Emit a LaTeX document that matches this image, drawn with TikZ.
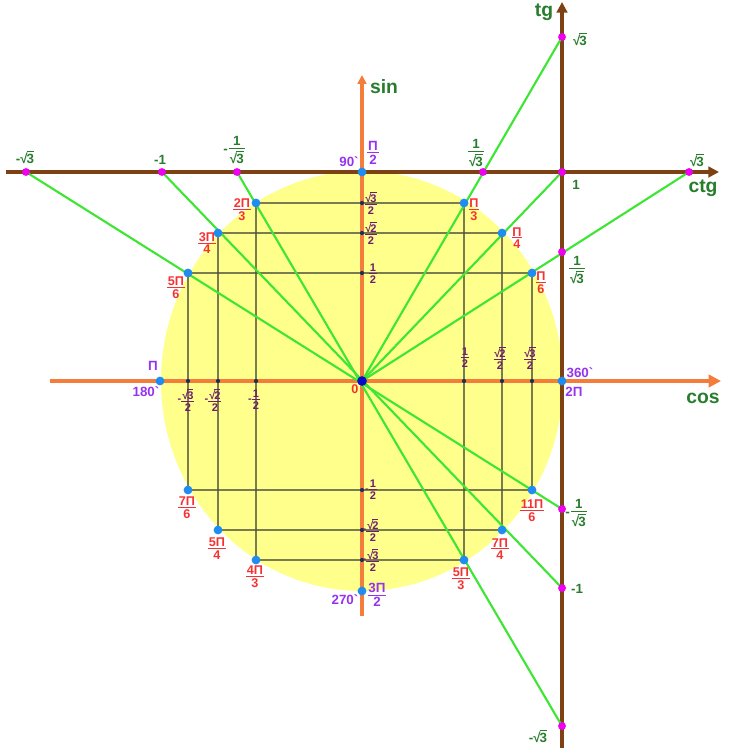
\documentclass[tikz,border=0pt]{standalone}
\usepackage{amsmath}
\usepackage{fontspec}
\setmainfont{Liberation Sans}
\usetikzlibrary{arrows.meta}
\definecolor{myorange}{RGB}{245,125,60}
\definecolor{mybrown}{RGB}{125,65,20}
\definecolor{mygreen}{RGB}{60,230,50}
\definecolor{mydkgreen}{RGB}{40,125,45}
\definecolor{myyellow}{RGB}{255,255,140}
\definecolor{myblue}{RGB}{30,140,240}
\definecolor{mydkblue}{RGB}{10,10,200}
\definecolor{mynavy}{RGB}{20,50,90}
\definecolor{mymagenta}{RGB}{240,0,240}
\definecolor{myred}{RGB}{245,50,50}
\definecolor{myviolet}{RGB}{150,50,240}
\definecolor{myplum}{RGB}{110,30,110}
\definecolor{mygrid}{RGB}{80,80,60}
% tight fraction and root
\newcommand{\fr}[2]{$\vcenter{\offinterlineskip\halign{\hfil\kern0.5pt\hbox{##}\kern0.5pt\hfil\cr #1\cr\noalign{\kern0.8pt\hrule height0.55pt\kern0.9pt}#2\cr}}$}
\newcommand{\rfr}[2]{$\vcenter{\offinterlineskip\halign{\hfil\kern0.5pt\hbox{##}\kern0.5pt\hfil\cr #1\cr\noalign{\kern1pt\hrule height0.55pt\kern1.2pt}#2\cr}}$}
\newcommand{\rt}[1]{\mbox{√\kern-0.6pt$\overline{\text{#1}}$}}
\newcommand{\gr}{\textasciigrave}
\newcommand{\mn}{-\kern0.7pt}
\tikzset{
  cpt/.style={circle, fill=myblue, inner sep=0pt, minimum size=5pt},
  tpt/.style={circle, fill=mymagenta, inner sep=0pt, minimum size=4.5pt},
  apt/.style={circle, fill=mynavy, inner sep=0pt, minimum size=2.4pt},
  oaxis/.style={-{Triangle[length=7pt, width=7pt]}, line width=2pt, color=myorange},
  baxis/.style={-{Triangle[length=6pt, width=6pt]}, line width=2pt, color=mybrown},
  gline/.style={line width=1.2pt, color=mygreen},
  projline/.style={line width=0.8pt, color=mygrid, opacity=0.75},
  tlbl/.style={text=mydkgreen, font=\bfseries\fontsize{7.6}{8}\selectfont, inner sep=0pt},
  axlbl/.style={text=mydkgreen, font=\bfseries\fontsize{11}{12}\selectfont, inner sep=0pt},
  vlbl/.style={text=myviolet, font=\bfseries\fontsize{7.6}{8}\selectfont, inner sep=0pt},
  rlbl/.style={text=myred, font=\bfseries\fontsize{7.2}{7.5}\selectfont, inner sep=0pt},
  plbl/.style={text=myplum, font=\bfseries\fontsize{6.3}{7}\selectfont, inner sep=0pt}
}

\begin{document}
\begin{tikzpicture}[x=0.02cm, y=-0.02cm]
  \useasboundingbox (0,0) rectangle (728,753);

  % unit disk
  \fill[myyellow] (362,381) ellipse [x radius=201, y radius=210];

  % Points on the circle
  \coordinate (O) at (362,381);
  \coordinate (p0) at (562,381);
  \coordinate (p30) at (532,273);
  \coordinate (p45) at (502,233);
  \coordinate (p60) at (464,203);
  \coordinate (p90) at (362,172);
  \coordinate (p120) at (256,203);
  \coordinate (p135) at (218,233);
  \coordinate (p150) at (188,273);
  \coordinate (p180) at (160,381);
  \coordinate (p210) at (188,490);
  \coordinate (p225) at (218,530);
  \coordinate (p240) at (256,560);
  \coordinate (p270) at (362,591);
  \coordinate (p300) at (464,560);
  \coordinate (p315) at (502,530);
  \coordinate (p330) at (532,490);

  % Points on tg and ctg
  \coordinate (c1) at (26,172);
  \coordinate (c2) at (162,172);
  \coordinate (c3) at (237,172);
  \coordinate (c4) at (483,172);
  \coordinate (c5) at (562,172);
  \coordinate (c6) at (689,172);
  \coordinate (t1) at (562,37);
  \coordinate (t2) at (562,252);
  \coordinate (t3) at (562,509);
  \coordinate (t4) at (562,588);
  \coordinate (t5) at (562,726);

  % Axis ends
  \coordinate (cosL) at (50,381);
  \coordinate (cosR) at (721,381);
  \coordinate (sinB) at (362,616);
  \coordinate (sinT) at (362,75);
  \coordinate (ctgL) at (6,172);
  \coordinate (ctgR) at (719,172);
  \coordinate (tgB) at (562,748);
  \coordinate (tgT) at (562,2);

  % Projections
  \draw[projline] (p120) -- (p60);
  \draw[projline] (p135) -- (p45);
  \draw[projline] (p150) -- (p30);
  \draw[projline] (p210) -- (p330);
  \draw[projline] (p225) -- (p315);
  \draw[projline] (p240) -- (p300);
  \draw[projline] (p120) -- (p240);
  \draw[projline] (p135) -- (p225);
  \draw[projline] (p150) -- (p210);
  \draw[projline] (p60) -- (p300);
  \draw[projline] (p45) -- (p315);
  \draw[projline] (p30) -- (p330);

  % Axes
  \draw[oaxis] (cosL) -- (cosR);
  \draw[oaxis, -{Triangle[length=5pt, width=5pt]}] (sinB) -- (sinT);
  \draw[baxis] (ctgL) -- (ctgR);
  \draw[baxis] (tgB) -- (tgT);

  % Green lines
  \draw[gline] (c1) -- (t3);
  \draw[gline] (c2) -- (t4);
  \draw[gline] (c3) -- (t5);
  \draw[gline] (O) -- (t1);
  \draw[gline] (O) -- (c5);
  \draw[gline] (O) -- (c6);

  % Dots on the axes
  \node[apt] (a1) at (362,203) {};
  \node[apt] (a2) at (362,233) {};
  \node[apt] (a3) at (362,273) {};
  \node[apt] (a4) at (362,490) {};
  \node[apt] (a5) at (362,530) {};
  \node[apt] (a6) at (362,560) {};
  \node[apt] (a7) at (188,381) {};
  \node[apt] (a8) at (218,381) {};
  \node[apt] (a9) at (256,381) {};
  \node[apt] (a10) at (464,381) {};
  \node[apt] (a11) at (502,381) {};
  \node[apt] (a12) at (532,381) {};

  % Dots on the circle
  \node[cpt] (d0) at (p0) {};
  \node[cpt] (d30) at (p30) {};
  \node[cpt] (d45) at (p45) {};
  \node[cpt] (d60) at (p60) {};
  \node[cpt] (d90) at (p90) {};
  \node[cpt] (d120) at (p120) {};
  \node[cpt] (d135) at (p135) {};
  \node[cpt] (d150) at (p150) {};
  \node[cpt] (d180) at (p180) {};
  \node[cpt] (d210) at (p210) {};
  \node[cpt] (d225) at (p225) {};
  \node[cpt] (d240) at (p240) {};
  \node[cpt] (d270) at (p270) {};
  \node[cpt] (d300) at (p300) {};
  \node[cpt] (d315) at (p315) {};
  \node[cpt] (d330) at (p330) {};
  \node[circle, fill=mydkblue, inner sep=0pt, minimum size=5.5pt] (dO) at (O) {};

  % Dots on tg and ctg
  \node[tpt] (dc1) at (c1) {};
  \node[tpt] (dc2) at (c2) {};
  \node[tpt] (dc3) at (c3) {};
  \node[tpt] (dc4) at (c4) {};
  \node[tpt] (dc5) at (c5) {};
  \node[tpt] (dc6) at (c6) {};
  \node[tpt] (dt1) at (t1) {};
  \node[tpt] (dt2) at (t2) {};
  \node[tpt] (dt3) at (t3) {};
  \node[tpt] (dt4) at (t4) {};
  \node[tpt] (dt5) at (t5) {};

  % Axis names
  \node[axlbl] (lsin) at (384,87) {sin};
  \node[axlbl] (lcos) at (703,398) {cos};
  \node[axlbl] (ltg) at (544,12) {tg};
  \node[axlbl] (lctg) at (703,188) {ctg};

  % tg and ctg values
  \node[tlbl] (lc1) at (25,157) {-\rt{3}};
  \node[tlbl] (lc2) at (160,160) {-1};
  \node[tlbl] (lc3) at (234,150) {\mn\rfr{1}{\rt{3}}};
  \node[tlbl] (lc4) at (476,153) {\rfr{1}{\rt{3}}};
  \node[tlbl] (lc5) at (576,185) {1};
  \node[tlbl] (lc6) at (697,160) {\rt{3}};
  \node[tlbl] (lt1) at (580,39) {\rt{3}};
  \node[tlbl] (lt2) at (577,270) {\rfr{1}{\rt{3}}};
  \node[tlbl] (lt3) at (576,513) {\mn\rfr{1}{\rt{3}}};
  \node[tlbl] (lt4) at (577,589) {-1};
  \node[tlbl] (lt5) at (538,736) {-\rt{3}};

  % Quadrant angles
  \node[vlbl] (l90) at (349,162) {90\gr};
  \node[vlbl] (lpi2) at (373,153) {\fr{Π}{2}};
  \node[vlbl] (lpi) at (153,366) {Π};
  \node[vlbl] (l180) at (146,392) {180\gr};
  \node[vlbl] (l360) at (580,373) {360\gr};
  \node[vlbl] (l2pi) at (574,392) {2Π};
  \node[vlbl] (l270) at (345,600) {270\gr};
  \node[vlbl] (l3pi2) at (377,595) {\fr{3Π}{2}};

  % Angles
  \node[rlbl] (l0) at (355,389) {0};
  \node[rlbl] (l30) at (541,283) {\fr{Π}{6}};
  \node[rlbl] (l45) at (517,238) {\fr{Π}{4}};
  \node[rlbl] (l60) at (474,210) {\fr{Π}{3}};
  \node[rlbl] (l120) at (242,210) {\fr{2Π}{3}};
  \node[rlbl] (l135) at (207,243) {\fr{3Π}{4}};
  \node[rlbl] (l150) at (176,288) {\fr{5Π}{6}};
  \node[rlbl] (l210) at (187,508) {\fr{7Π}{6}};
  \node[rlbl] (l225) at (217,549) {\fr{5Π}{4}};
  \node[rlbl] (l240) at (255,577) {\fr{4Π}{3}};
  \node[rlbl] (l300) at (461,579) {\fr{5Π}{3}};
  \node[rlbl] (l315) at (500,549) {\fr{7Π}{4}};
  \node[rlbl] (l330) at (532,511) {\fr{11Π}{6}};

  % sin and cos values
  \node[plbl] (s1) at (371,203) {\fr{\rt{3}}{2}};
  \node[plbl] (s2) at (371,233) {\fr{\rt{2}}{2}};
  \node[plbl] (s3) at (373,274) {\fr{1}{2}};
  \node[plbl] (s4) at (371,490) {-\fr{1}{2}};
  \node[plbl] (s5) at (371,530) {-\fr{\rt{2}}{2}};
  \node[plbl] (s6) at (371,560) {-\fr{\rt{3}}{2}};
  \node[plbl] (k1) at (465,358) {\fr{1}{2}};
  \node[plbl] (k2) at (500,358) {\fr{\rt{2}}{2}};
  \node[plbl] (k3) at (530,358) {\fr{\rt{3}}{2}};
  \node[plbl] (k4) at (186,400) {-\fr{\rt{3}}{2}};
  \node[plbl] (k5) at (213,400) {-\fr{\rt{2}}{2}};
  \node[plbl] (k6) at (254,400) {-\fr{1}{2}};

\end{tikzpicture}
\end{document}
